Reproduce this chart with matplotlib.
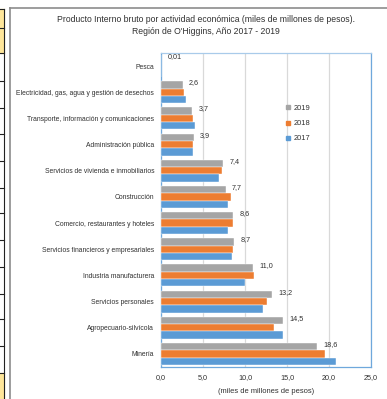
import matplotlib
matplotlib.use("Agg")
import matplotlib.pyplot as plt
from matplotlib.lines import Line2D
from matplotlib.patches import Rectangle
import numpy as np

plt.rcParams['font.family'] = ['Liberation Sans Narrow', 'Liberation Sans', 'DejaVu Sans']

categories = [
    "Pesca",
    "Electricidad, gas, agua y gestión de desechos",
    "Transporte, información y comunicaciones",
    "Administración pública",
    "Servicios de vivienda e inmobiliarios",
    "Construcción",
    "Comercio, restaurantes y hoteles",
    "Servicios financieros y empresariales",
    "Industria manufacturera",
    "Servicios personales",
    "Agropecuario-silvícola",
    "Minería",
]
pib_2019 = [0.01, 2.6, 3.7, 3.9, 7.4, 7.7, 8.6, 8.7, 11.0, 13.2, 14.5, 18.6]
pib_2018 = [0.01, 2.75, 3.8, 3.8, 7.3, 8.3, 8.6, 8.6, 11.05, 12.65, 13.5, 19.5]
pib_2017 = [0.01, 2.95, 4.0, 3.8, 6.9, 8.0, 8.0, 8.5, 9.95, 12.1, 14.55, 20.8]
years = ["2019", "2018", "2017"]
x_ticks = [0, 5, 10, 15, 20, 25]

colors = {"2019": "#A5A5A5", "2018": "#ED7D31", "2017": "#5B9BD5"}
text_color = "#303030"

W, H = 387, 399
fig = plt.figure(figsize=(W / 100, H / 100), dpi=100)

# spreadsheet cells peeking in on the left
for y0, y1 in [(9, 28), (28, 53), (373, 399)]:
    fig.patches.append(Rectangle((0, 1 - y1 / H), 4 / W, (y1 - y0) / H,
                                 transform=fig.transFigure, color="#FFE699", zorder=0))
for yl in [9, 28, 53, 81, 108, 134, 161, 188, 213, 240, 267, 294, 319, 346, 373]:
    fig.add_artist(Line2D([0, 4 / W], [1 - yl / H] * 2, transform=fig.transFigure,
                          color="#222222", lw=0.8))
fig.add_artist(Line2D([4 / W, 4 / W], [0, 1 - 9 / H], transform=fig.transFigure,
                      color="#222222", lw=0.8))

# chart frame
fig.add_artist(Line2D([10 / W, 10 / W], [0, 1 - 8 / H], transform=fig.transFigure,
                      color="#8C8C8C", lw=1.2))
fig.add_artist(Line2D([10 / W, 1], [1 - 8 / H] * 2, transform=fig.transFigure,
                      color="#8C8C8C", lw=1.2))

ax = fig.add_axes([161 / W, 1 - 367 / H, (371 - 161) / W, (367 - 53) / H])

y = np.arange(len(categories))
h = 0.28
series = {"2019": pib_2019, "2018": pib_2018, "2017": pib_2017}
offsets = {"2019": -h, "2018": 0.0, "2017": h}
for yr in years:
    ax.barh(y + offsets[yr], series[yr], height=h, color=colors[yr], zorder=3,
            edgecolor="white", linewidth=0.3)

for yi, v in zip(y, pib_2019):
    lab = f"{v:.2f}" if v < 0.1 else f"{v:.1f}"
    ax.annotate(lab.replace(".", ","), (v, yi - h), xytext=(4.5, 1.5),
                textcoords="offset points", va="center", ha="left",
                fontsize=5.2, color=text_color)

ax.set_ylim(len(categories) - 0.5, -0.5)
ax.set_xlim(0, 25)
ax.set_yticks(y)
ax.set_yticklabels(categories, fontsize=4.85, color=text_color)
ax.set_xticks(x_ticks)
ax.set_xticklabels([f"{t:.1f}".replace(".", ",") for t in x_ticks], fontsize=5.2,
                   color=text_color)
ax.tick_params(length=0, pad=5)
ax.tick_params(axis='y', pad=5)
ax.grid(axis="x", color="#D9D9D9", lw=0.9, zorder=0)
for s in ax.spines.values():
    s.set_color("#6FA8DC")
    s.set_linewidth(0.9)
ax.spines["top"].set_color("#A9CBEA")

ax.set_xlabel("(miles de millones de pesos)", fontsize=5.4, color=text_color, labelpad=5)

fig.text(206 / W, 1 - 20 / H, "Producto Interno bruto por actividad económica (miles de millones de pesos).",
         ha="center", va="center", fontsize=6.2, color=text_color)
fig.text(206 / W, 1 - 32 / H, "Región de O'Higgins, Año 2017 - 2019",
         ha="center", va="center", fontsize=6.2, color=text_color)

handles = [Line2D([], [], marker="s", ls="none", color=colors[yr], markersize=3.2)
           for yr in years]
ax.legend(handles, years, loc="upper left", bbox_to_anchor=(282 / W, 1 - 101 / H),
          bbox_transform=fig.transFigure, frameon=False, fontsize=5.4,
          handlelength=0.6, handletextpad=0.4, labelspacing=1.05, borderpad=0,
          labelcolor=text_color)

fig.savefig("out.png", dpi=100)
